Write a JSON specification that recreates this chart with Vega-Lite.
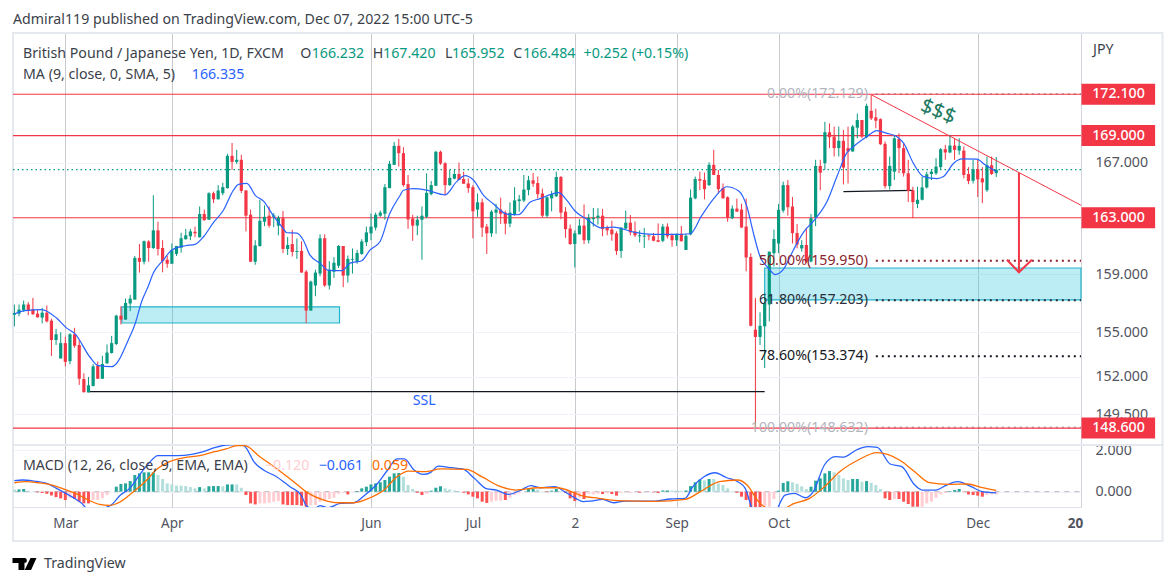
{"$schema":"https://vega.github.io/schema/vega-lite/v6.json","background":"white","padding":{"left":11,"top":12,"right":0,"bottom":0},"spacing":0,"bounds":"flush","resolve":{"scale":{"color":"independent"}},
"config":{"view":{"stroke":"#e0e3eb"},"font":"Noto Sans","text":{"font":"Noto Sans"},"axis":{"labelFont":"Noto Sans","labelFontSize":14.2,"labelColor":"#50535e"}},
"datasets":{
"candles":[{"n":0,"o":156.2,"h":156.9,"l":155.4,"c":156.32},{"n":1,"o":156.27,"h":156.9,"l":156.09,"c":156.55},{"n":2,"o":156.5,"h":157.17,"l":156.39,"c":156.9},{"n":3,"o":156.9,"h":157.06,"l":156.16,"c":156.5},{"n":4,"o":156.57,"h":157.36,"l":156.2,"c":156.23},{"n":5,"o":156.27,"h":156.55,"l":156.0,"c":156.02},{"n":6,"o":156.0,"h":156.67,"l":155.6,"c":156.34},{"n":7,"o":156.34,"h":156.83,"l":155.67,"c":155.74},{"n":8,"o":155.79,"h":155.93,"l":153.39,"c":154.47},{"n":9,"o":154.47,"h":155.23,"l":154.13,"c":154.86},{"n":10,"o":153.22,"h":155.0,"l":153.22,"c":154.26},{"n":11,"o":154.26,"h":154.7,"l":152.69,"c":152.99},{"n":12,"o":153.04,"h":154.93,"l":152.83,"c":154.86},{"n":13,"o":154.86,"h":155.3,"l":153.94,"c":154.08},{"n":14,"o":154.13,"h":154.47,"l":151.45,"c":151.86},{"n":15,"o":151.84,"h":152.23,"l":150.96,"c":150.96},{"n":16,"o":150.96,"h":151.98,"l":150.96,"c":151.42},{"n":17,"o":151.38,"h":152.85,"l":151.35,"c":152.69},{"n":18,"o":152.74,"h":153.02,"l":151.86,"c":151.86},{"n":19,"o":151.86,"h":153.41,"l":151.86,"c":152.85},{"n":20,"o":152.9,"h":154.17,"l":152.85,"c":153.62},{"n":21,"o":153.59,"h":154.75,"l":153.55,"c":154.26},{"n":22,"o":154.2,"h":156.2,"l":154.13,"c":156.13},{"n":23,"o":156.13,"h":156.78,"l":155.53,"c":155.86},{"n":24,"o":155.86,"h":157.31,"l":155.86,"c":157.01},{"n":25,"o":156.97,"h":157.57,"l":156.44,"c":157.31},{"n":26,"o":157.24,"h":160.29,"l":157.24,"c":160.15},{"n":27,"o":160.15,"h":161.13,"l":159.12,"c":159.88},{"n":28,"o":159.88,"h":161.38,"l":159.69,"c":161.33},{"n":29,"o":161.31,"h":161.4,"l":159.88,"c":160.85},{"n":30,"o":160.85,"h":164.62,"l":160.78,"c":162.1},{"n":31,"o":162.1,"h":162.72,"l":160.32,"c":160.78},{"n":32,"o":160.85,"h":161.4,"l":159.14,"c":159.92},{"n":33,"o":160.02,"h":160.29,"l":159.46,"c":159.74},{"n":34,"o":159.74,"h":161.17,"l":159.74,"c":160.69},{"n":35,"o":160.43,"h":161.0,"l":160.29,"c":160.99},{"n":36,"o":160.87,"h":161.93,"l":160.52,"c":161.54},{"n":37,"o":161.47,"h":162.21,"l":161.45,"c":161.75},{"n":38,"o":161.68,"h":162.21,"l":161.4,"c":162.03},{"n":39,"o":162.0,"h":162.37,"l":161.61,"c":161.89},{"n":40,"o":161.61,"h":163.81,"l":161.59,"c":163.27},{"n":41,"o":163.27,"h":163.59,"l":162.79,"c":162.83},{"n":42,"o":162.86,"h":164.84,"l":162.86,"c":164.77},{"n":43,"o":164.77,"h":164.89,"l":164.06,"c":164.33},{"n":44,"o":164.33,"h":165.36,"l":164.33,"c":164.97},{"n":45,"o":164.77,"h":165.53,"l":164.62,"c":165.21},{"n":46,"o":165.14,"h":167.65,"l":165.11,"c":167.5},{"n":47,"o":167.5,"h":168.46,"l":166.47,"c":167.06},{"n":48,"o":167.06,"h":167.94,"l":166.91,"c":167.21},{"n":49,"o":167.21,"h":167.58,"l":164.79,"c":164.94},{"n":50,"o":164.97,"h":164.99,"l":162.03,"c":163.15},{"n":51,"o":163.22,"h":163.59,"l":159.88,"c":159.88},{"n":52,"o":159.88,"h":161.4,"l":159.67,"c":161.03},{"n":53,"o":160.99,"h":164.3,"l":160.94,"c":162.79},{"n":54,"o":162.72,"h":163.89,"l":162.4,"c":163.07},{"n":55,"o":163.15,"h":163.81,"l":162.3,"c":162.44},{"n":56,"o":163.07,"h":163.34,"l":162.33,"c":163.17},{"n":57,"o":162.44,"h":163.15,"l":161.75,"c":163.0},{"n":58,"o":162.97,"h":163.49,"l":160.48,"c":160.78},{"n":59,"o":160.78,"h":161.63,"l":160.36,"c":161.06},{"n":60,"o":161.13,"h":162.14,"l":160.25,"c":160.57},{"n":61,"o":160.57,"h":161.52,"l":160.08,"c":160.64},{"n":62,"o":160.64,"h":161.33,"l":159.12,"c":159.12},{"n":63,"o":159.18,"h":159.3,"l":155.63,"c":156.48},{"n":64,"o":156.48,"h":158.56,"l":156.48,"c":158.49},{"n":65,"o":158.22,"h":159.32,"l":157.47,"c":159.12},{"n":66,"o":159.05,"h":161.82,"l":158.86,"c":161.54},{"n":67,"o":161.54,"h":161.82,"l":158.12,"c":158.22},{"n":68,"o":158.22,"h":159.92,"l":157.94,"c":159.32},{"n":69,"o":159.18,"h":160.2,"l":158.75,"c":159.81},{"n":70,"o":159.6,"h":161.06,"l":159.44,"c":160.99},{"n":71,"o":160.99,"h":160.99,"l":158.1,"c":158.91},{"n":72,"o":158.91,"h":160.32,"l":158.42,"c":160.08},{"n":73,"o":160.02,"h":160.82,"l":159.05,"c":160.08},{"n":74,"o":159.88,"h":160.71,"l":159.74,"c":160.5},{"n":75,"o":160.43,"h":161.47,"l":160.36,"c":161.31},{"n":76,"o":161.26,"h":162.37,"l":160.99,"c":161.96},{"n":77,"o":161.89,"h":163.3,"l":161.4,"c":162.37},{"n":78,"o":162.3,"h":163.37,"l":162.1,"c":163.22},{"n":79,"o":163.15,"h":163.52,"l":163.07,"c":163.37},{"n":80,"o":163.29,"h":165.44,"l":162.86,"c":165.21},{"n":81,"o":165.14,"h":167.13,"l":165.14,"c":166.91},{"n":82,"o":166.84,"h":168.53,"l":166.84,"c":168.24},{"n":83,"o":168.24,"h":168.76,"l":166.71,"c":167.7},{"n":84,"o":167.7,"h":168.14,"l":165.24,"c":165.36},{"n":85,"o":165.43,"h":166.1,"l":162.21,"c":162.88},{"n":86,"o":162.95,"h":163.22,"l":161.36,"c":162.44},{"n":87,"o":162.44,"h":163.15,"l":161.75,"c":162.86},{"n":88,"o":162.86,"h":163.81,"l":160.02,"c":163.15},{"n":89,"o":163.07,"h":166.22,"l":162.97,"c":164.8},{"n":90,"o":164.7,"h":165.66,"l":164.62,"c":165.36},{"n":91,"o":165.31,"h":167.87,"l":165.29,"c":167.8},{"n":92,"o":167.8,"h":167.89,"l":166.84,"c":166.94},{"n":93,"o":166.96,"h":167.03,"l":164.62,"c":165.36},{"n":94,"o":165.36,"h":166.47,"l":165.31,"c":165.88},{"n":95,"o":165.83,"h":166.52,"l":165.78,"c":166.17},{"n":96,"o":166.17,"h":167.01,"l":165.73,"c":165.73},{"n":97,"o":165.8,"h":166.34,"l":165.46,"c":165.46},{"n":98,"o":165.48,"h":165.85,"l":164.8,"c":165.14},{"n":99,"o":165.21,"h":165.36,"l":161.54,"c":163.47},{"n":100,"o":163.59,"h":164.75,"l":163.07,"c":164.11},{"n":101,"o":164.11,"h":164.38,"l":161.63,"c":162.3},{"n":102,"o":162.37,"h":162.56,"l":160.43,"c":161.89},{"n":103,"o":161.89,"h":163.56,"l":161.63,"c":163.44},{"n":104,"o":163.37,"h":164.01,"l":161.86,"c":163.59},{"n":105,"o":163.59,"h":164.45,"l":162.56,"c":163.29},{"n":106,"o":163.37,"h":163.52,"l":161.82,"c":162.58},{"n":107,"o":162.58,"h":164.11,"l":162.33,"c":163.37},{"n":108,"o":163.22,"h":165.21,"l":163.15,"c":164.25},{"n":109,"o":164.2,"h":164.65,"l":163.44,"c":164.33},{"n":110,"o":164.25,"h":166.1,"l":164.13,"c":165.04},{"n":111,"o":165.01,"h":166.03,"l":164.62,"c":165.71},{"n":112,"o":165.71,"h":166.25,"l":165.24,"c":165.46},{"n":113,"o":165.51,"h":165.98,"l":164.38,"c":164.7},{"n":114,"o":164.75,"h":165.11,"l":163.02,"c":163.15},{"n":115,"o":163.15,"h":164.55,"l":163.0,"c":164.48},{"n":116,"o":164.4,"h":164.94,"l":163.47,"c":164.7},{"n":117,"o":164.55,"h":166.34,"l":164.5,"c":165.95},{"n":118,"o":165.95,"h":166.02,"l":162.9,"c":163.37},{"n":119,"o":163.44,"h":163.76,"l":161.57,"c":162.19},{"n":120,"o":162.23,"h":162.51,"l":161.06,"c":161.13},{"n":121,"o":161.13,"h":162.1,"l":159.48,"c":161.89},{"n":122,"o":161.82,"h":162.9,"l":161.82,"c":162.44},{"n":123,"o":162.44,"h":163.96,"l":161.13,"c":161.4},{"n":124,"o":161.4,"h":163.27,"l":161.17,"c":163.0},{"n":125,"o":162.9,"h":163.71,"l":162.37,"c":163.0},{"n":126,"o":163.0,"h":163.69,"l":162.51,"c":163.15},{"n":127,"o":163.15,"h":163.64,"l":161.68,"c":162.19},{"n":128,"o":162.3,"h":162.44,"l":161.75,"c":162.1},{"n":129,"o":162.16,"h":162.79,"l":161.36,"c":161.82},{"n":130,"o":161.89,"h":162.03,"l":160.36,"c":160.64},{"n":131,"o":160.64,"h":162.3,"l":160.15,"c":162.3},{"n":132,"o":162.23,"h":163.52,"l":162.16,"c":162.65},{"n":133,"o":162.65,"h":163.2,"l":161.75,"c":161.96},{"n":134,"o":162.03,"h":162.74,"l":161.63,"c":161.75},{"n":135,"o":161.68,"h":162.1,"l":161.24,"c":161.75},{"n":136,"o":161.66,"h":162.28,"l":160.85,"c":161.72},{"n":137,"o":161.75,"h":161.75,"l":161.4,"c":161.68},{"n":138,"o":161.68,"h":161.91,"l":161.33,"c":161.36},{"n":139,"o":161.4,"h":162.6,"l":161.26,"c":161.29},{"n":140,"o":161.36,"h":162.56,"l":161.26,"c":162.37},{"n":141,"o":162.37,"h":162.6,"l":161.52,"c":161.68},{"n":142,"o":161.75,"h":161.86,"l":160.94,"c":161.4},{"n":143,"o":161.4,"h":161.86,"l":160.99,"c":161.86},{"n":144,"o":161.86,"h":162.42,"l":161.31,"c":161.33},{"n":145,"o":160.71,"h":161.86,"l":160.71,"c":161.72},{"n":146,"o":161.82,"h":165.04,"l":161.75,"c":164.45},{"n":147,"o":164.4,"h":165.98,"l":164.33,"c":165.8},{"n":148,"o":165.8,"h":166.34,"l":165.0,"c":165.68},{"n":149,"o":165.73,"h":166.27,"l":164.33,"c":165.07},{"n":150,"o":165.36,"h":167.03,"l":165.29,"c":166.84},{"n":151,"o":166.84,"h":167.94,"l":166.1,"c":166.1},{"n":152,"o":166.1,"h":166.47,"l":164.75,"c":165.07},{"n":153,"o":165.14,"h":165.48,"l":164.38,"c":164.4},{"n":154,"o":164.48,"h":164.55,"l":162.72,"c":163.0},{"n":155,"o":162.97,"h":163.89,"l":162.9,"c":163.66},{"n":156,"o":163.66,"h":164.38,"l":163.44,"c":163.44},{"n":157,"o":163.59,"h":164.01,"l":162.3,"c":162.3},{"n":158,"o":162.37,"h":164.38,"l":159.21,"c":160.18},{"n":159,"o":160.22,"h":160.48,"l":155.4,"c":155.44},{"n":160,"o":155.17,"h":157.36,"l":154.68,"c":154.68},{"n":161,"o":154.68,"h":156.36,"l":154.13,"c":155.44},{"n":162,"o":155.4,"h":157.7,"l":152.58,"c":157.01},{"n":163,"o":156.9,"h":160.59,"l":155.74,"c":160.59},{"n":164,"o":160.48,"h":162.16,"l":159.55,"c":161.49},{"n":165,"o":161.17,"h":164.0,"l":160.48,"c":163.57},{"n":166,"o":163.52,"h":165.61,"l":163.37,"c":165.36},{"n":167,"o":165.36,"h":165.73,"l":163.15,"c":163.76},{"n":168,"o":163.81,"h":164.5,"l":161.17,"c":161.91},{"n":169,"o":161.91,"h":162.56,"l":160.83,"c":161.1},{"n":170,"o":160.82,"h":161.4,"l":160.59,"c":161.06},{"n":171,"o":161.06,"h":162.3,"l":159.8,"c":159.9},{"n":172,"o":159.9,"h":163.27,"l":159.83,"c":162.97},{"n":173,"o":163.02,"h":167.21,"l":162.4,"c":166.76},{"n":174,"o":166.76,"h":167.21,"l":164.99,"c":166.27},{"n":175,"o":166.96,"h":170.03,"l":166.47,"c":169.25},{"n":176,"o":169.25,"h":169.91,"l":168.07,"c":168.88},{"n":177,"o":168.93,"h":169.67,"l":167.45,"c":168.07},{"n":178,"o":168.07,"h":169.67,"l":167.45,"c":168.61},{"n":179,"o":168.61,"h":169.42,"l":165.41,"c":166.64},{"n":180,"o":168.07,"h":169.67,"l":165.48,"c":167.82},{"n":181,"o":167.82,"h":169.79,"l":167.82,"c":169.67},{"n":182,"o":169.59,"h":170.65,"l":168.8,"c":170.16},{"n":183,"o":170.16,"h":170.16,"l":168.8,"c":168.93},{"n":184,"o":168.88,"h":171.39,"l":168.8,"c":171.22},{"n":185,"o":170.85,"h":172.05,"l":170.16,"c":170.28},{"n":186,"o":170.36,"h":171.02,"l":169.54,"c":170.11},{"n":187,"o":170.23,"h":170.28,"l":168.31,"c":168.36},{"n":188,"o":168.39,"h":168.56,"l":165.11,"c":165.29},{"n":189,"o":165.29,"h":167.45,"l":165.04,"c":166.76},{"n":190,"o":166.34,"h":169.05,"l":165.73,"c":168.8},{"n":191,"o":168.75,"h":169.17,"l":166.22,"c":168.07},{"n":192,"o":168.07,"h":168.44,"l":165.98,"c":166.22},{"n":193,"o":166.22,"h":167.21,"l":164.13,"c":164.94},{"n":194,"o":164.99,"h":165.24,"l":162.97,"c":164.13},{"n":195,"o":164.0,"h":165.24,"l":163.69,"c":164.3},{"n":196,"o":164.3,"h":165.98,"l":164.25,"c":165.19},{"n":197,"o":165.19,"h":166.34,"l":165.11,"c":166.15},{"n":198,"o":166.17,"h":166.47,"l":165.73,"c":166.34},{"n":199,"o":166.22,"h":167.33,"l":166.1,"c":166.71},{"n":200,"o":166.67,"h":168.07,"l":166.47,"c":167.99},{"n":201,"o":167.99,"h":168.31,"l":167.21,"c":167.75},{"n":202,"o":167.75,"h":169.05,"l":167.7,"c":168.26},{"n":203,"o":168.26,"h":168.8,"l":167.21,"c":167.94},{"n":204,"o":167.89,"h":168.8,"l":167.58,"c":168.24},{"n":205,"o":167.89,"h":168.19,"l":165.85,"c":166.1},{"n":206,"o":166.17,"h":166.67,"l":165.43,"c":165.66},{"n":207,"o":165.68,"h":167.21,"l":165.48,"c":166.52},{"n":208,"o":166.52,"h":167.21,"l":164.5,"c":165.78},{"n":209,"o":165.85,"h":166.67,"l":164.06,"c":165.56},{"n":210,"o":164.99,"h":167.45,"l":164.87,"c":166.81},{"n":211,"o":166.81,"h":167.45,"l":166.1,"c":166.17},{"n":212,"o":166.232,"h":167.42,"l":165.952,"c":166.484}],
"ma":[{"n":0,"p":156.25},{"n":2.3,"p":156.48},{"n":5.9,"p":156.55},{"n":9.1,"p":155.97},{"n":11.3,"p":155.28},{"n":13.1,"p":154.89},{"n":16.3,"p":153.32},{"n":18.1,"p":152.74},{"n":21,"p":152.67},{"n":22.1,"p":152.9},{"n":24.6,"p":154.47},{"n":26,"p":155.51},{"n":27.5,"p":157.13},{"n":28.9,"p":158.17},{"n":30,"p":159.09},{"n":32.2,"p":160.02},{"n":34,"p":160.71},{"n":36.9,"p":161.01},{"n":39,"p":161.1},{"n":40.8,"p":161.63},{"n":43,"p":162.67},{"n":45.1,"p":163.52},{"n":47.3,"p":164.99},{"n":48.4,"p":165.41},{"n":50.2,"p":165.48},{"n":52,"p":164.62},{"n":53.8,"p":164.2},{"n":55.9,"p":163.15},{"n":58.1,"p":162.21},{"n":58.8,"p":161.93},{"n":61,"p":161.91},{"n":62.4,"p":161.4},{"n":63.8,"p":160.36},{"n":66,"p":159.78},{"n":67.8,"p":159.28},{"n":70.7,"p":159.25},{"n":72.5,"p":159.78},{"n":75,"p":159.95},{"n":76.8,"p":160.71},{"n":79,"p":161.33},{"n":81,"p":163.27},{"n":83.3,"p":164.62},{"n":84,"p":164.99},{"n":86.2,"p":165.1},{"n":89,"p":164.99},{"n":93,"p":164.65},{"n":95.5,"p":165.61},{"n":97.3,"p":166.05},{"n":99.1,"p":165.73},{"n":101.3,"p":164.62},{"n":103.4,"p":164.01},{"n":106.3,"p":163.27},{"n":108.8,"p":163.22},{"n":111.4,"p":164.13},{"n":113.5,"p":164.38},{"n":117.5,"p":164.82},{"n":119.3,"p":164.25},{"n":121.1,"p":163.47},{"n":123.6,"p":162.9},{"n":126.8,"p":162.28},{"n":129.4,"p":162.33},{"n":133.7,"p":161.98},{"n":138,"p":161.82},{"n":143,"p":161.82},{"n":145.9,"p":161.86},{"n":148.4,"p":163.15},{"n":151,"p":164.38},{"n":153.8,"p":165.24},{"n":156.4,"p":164.94},{"n":158.2,"p":163.76},{"n":159.6,"p":161.86},{"n":161,"p":160.25},{"n":162.8,"p":159.44},{"n":164.3,"p":158.98},{"n":166,"p":159.32},{"n":168.2,"p":160.71},{"n":170.4,"p":161.98},{"n":172.9,"p":162.9},{"n":175.4,"p":164.13},{"n":177.6,"p":165.98},{"n":179.7,"p":167.7},{"n":181.2,"p":168.19},{"n":184.1,"p":168.93},{"n":186.2,"p":169.37},{"n":188.4,"p":169.17},{"n":190.5,"p":168.93},{"n":192,"p":168.44},{"n":194.1,"p":166.96},{"n":196.3,"p":165.98},{"n":199.2,"p":165.83},{"n":200.6,"p":165.98},{"n":202.8,"p":166.96},{"n":204.6,"p":167.28},{"n":207.8,"p":167.26},{"n":209.6,"p":166.84},{"n":212,"p":166.335}],
"hist":[{"n":0,"v":0.1,"s":"lg"},{"n":1,"v":0.11,"s":"g"},{"n":2,"v":0.13,"s":"g"},{"n":3,"v":0.05,"s":"lg"},{"n":4,"v":0.02,"s":"lg"},{"n":5,"v":-0.03,"s":"r"},{"n":6,"v":-0.06,"s":"r"},{"n":7,"v":-0.1,"s":"r"},{"n":8,"v":-0.18,"s":"r"},{"n":9,"v":-0.26,"s":"r"},{"n":10,"v":-0.32,"s":"r"},{"n":11,"v":-0.4,"s":"r"},{"n":12,"v":-0.29,"s":"lr"},{"n":13,"v":-0.35,"s":"r"},{"n":14,"v":-0.48,"s":"r"},{"n":15,"v":-0.56,"s":"r"},{"n":16,"v":-0.56,"s":"r"},{"n":17,"v":-0.4,"s":"lr"},{"n":18,"v":-0.4,"s":"lr"},{"n":19,"v":-0.32,"s":"lr"},{"n":20,"v":-0.16,"s":"lr"},{"n":21,"v":0.0,"s":"g"},{"n":22,"v":0.24,"s":"g"},{"n":23,"v":0.37,"s":"g"},{"n":24,"v":0.4,"s":"g"},{"n":25,"v":0.51,"s":"g"},{"n":26,"v":0.8,"s":"g"},{"n":27,"v":0.88,"s":"g"},{"n":28,"v":0.93,"s":"g"},{"n":29,"v":0.93,"s":"g"},{"n":30,"v":0.93,"s":"g"},{"n":31,"v":0.8,"s":"lg"},{"n":32,"v":0.61,"s":"lg"},{"n":33,"v":0.4,"s":"lg"},{"n":34,"v":0.35,"s":"lg"},{"n":35,"v":0.29,"s":"lg"},{"n":36,"v":0.29,"s":"lg"},{"n":37,"v":0.27,"s":"lg"},{"n":38,"v":0.22,"s":"lg"},{"n":39,"v":0.16,"s":"lg"},{"n":40,"v":0.22,"s":"g"},{"n":41,"v":0.16,"s":"lg"},{"n":42,"v":0.26,"s":"g"},{"n":43,"v":0.27,"s":"g"},{"n":44,"v":0.27,"s":"g"},{"n":45,"v":0.26,"s":"lg"},{"n":46,"v":0.35,"s":"g"},{"n":47,"v":0.35,"s":"g"},{"n":48,"v":0.35,"s":"lg"},{"n":49,"v":0.19,"s":"lg"},{"n":50,"v":-0.16,"s":"r"},{"n":51,"v":-0.56,"s":"r"},{"n":52,"v":-0.61,"s":"r"},{"n":53,"v":-0.56,"s":"lr"},{"n":54,"v":-0.56,"s":"lr"},{"n":55,"v":-0.53,"s":"lr"},{"n":56,"v":-0.48,"s":"lr"},{"n":57,"v":-0.45,"s":"lr"},{"n":58,"v":-0.61,"s":"r"},{"n":59,"v":-0.64,"s":"r"},{"n":60,"v":-0.64,"s":"r"},{"n":61,"v":-0.64,"s":"r"},{"n":62,"v":-0.67,"s":"r"},{"n":63,"v":-0.72,"s":"r"},{"n":64,"v":-0.64,"s":"lr"},{"n":65,"v":-0.64,"s":"lr"},{"n":66,"v":-0.48,"s":"lr"},{"n":67,"v":-0.4,"s":"lr"},{"n":68,"v":-0.35,"s":"lr"},{"n":69,"v":-0.29,"s":"lr"},{"n":70,"v":-0.1,"s":"lr"},{"n":71,"v":-0.05,"s":"lr"},{"n":72,"v":-0.13,"s":"r"},{"n":73,"v":-0.02,"s":"lr"},{"n":74,"v":0.03,"s":"g"},{"n":75,"v":0.16,"s":"g"},{"n":76,"v":0.24,"s":"g"},{"n":77,"v":0.35,"s":"g"},{"n":78,"v":0.4,"s":"g"},{"n":79,"v":0.45,"s":"g"},{"n":80,"v":0.56,"s":"g"},{"n":81,"v":0.72,"s":"g"},{"n":82,"v":0.88,"s":"g"},{"n":83,"v":0.9,"s":"g"},{"n":84,"v":0.72,"s":"lg"},{"n":85,"v":0.32,"s":"lg"},{"n":86,"v":0.13,"s":"lg"},{"n":87,"v":-0.05,"s":"r"},{"n":88,"v":-0.16,"s":"r"},{"n":89,"v":-0.1,"s":"lr"},{"n":90,"v":0.05,"s":"g"},{"n":91,"v":0.19,"s":"g"},{"n":92,"v":0.26,"s":"g"},{"n":93,"v":0.16,"s":"lg"},{"n":94,"v":0.11,"s":"lg"},{"n":95,"v":0.06,"s":"lg"},{"n":96,"v":0.02,"s":"lg"},{"n":97,"v":-0.05,"s":"r"},{"n":98,"v":-0.13,"s":"r"},{"n":99,"v":-0.24,"s":"r"},{"n":100,"v":-0.32,"s":"r"},{"n":101,"v":-0.48,"s":"r"},{"n":102,"v":-0.54,"s":"r"},{"n":103,"v":-0.48,"s":"lr"},{"n":104,"v":-0.43,"s":"lr"},{"n":105,"v":-0.43,"s":"lr"},{"n":106,"v":-0.4,"s":"r"},{"n":107,"v":-0.29,"s":"lr"},{"n":108,"v":-0.16,"s":"lr"},{"n":109,"v":-0.08,"s":"lr"},{"n":110,"v":0.0,"s":"lg"},{"n":111,"v":0.13,"s":"g"},{"n":112,"v":0.13,"s":"g"},{"n":113,"v":0.1,"s":"lg"},{"n":114,"v":0.02,"s":"lg"},{"n":115,"v":-0.02,"s":"r"},{"n":116,"v":0.05,"s":"g"},{"n":117,"v":0.13,"s":"g"},{"n":118,"v":0.03,"s":"lg"},{"n":119,"v":-0.06,"s":"r"},{"n":120,"v":-0.32,"s":"r"},{"n":121,"v":-0.45,"s":"r"},{"n":122,"v":-0.29,"s":"lr"},{"n":123,"v":-0.35,"s":"r"},{"n":124,"v":-0.1,"s":"lr"},{"n":125,"v":-0.13,"s":"lr"},{"n":126,"v":-0.1,"s":"lr"},{"n":127,"v":-0.11,"s":"r"},{"n":128,"v":-0.08,"s":"lr"},{"n":129,"v":-0.11,"s":"r"},{"n":130,"v":-0.19,"s":"r"},{"n":131,"v":-0.06,"s":"lr"},{"n":132,"v":-0.03,"s":"lr"},{"n":133,"v":-0.05,"s":"lr"},{"n":134,"v":-0.02,"s":"lr"},{"n":135,"v":-0.05,"s":"r"},{"n":136,"v":-0.02,"s":"lr"},{"n":137,"v":-0.02,"s":"lr"},{"n":138,"v":-0.03,"s":"r"},{"n":139,"v":-0.06,"s":"r"},{"n":140,"v":0.06,"s":"g"},{"n":141,"v":0.06,"s":"g"},{"n":142,"v":0.06,"s":"lg"},{"n":143,"v":0.05,"s":"lg"},{"n":144,"v":0.05,"s":"lg"},{"n":145,"v":0.06,"s":"g"},{"n":146,"v":0.27,"s":"g"},{"n":147,"v":0.45,"s":"g"},{"n":148,"v":0.58,"s":"g"},{"n":149,"v":0.54,"s":"lg"},{"n":150,"v":0.61,"s":"g"},{"n":151,"v":0.61,"s":"lg"},{"n":152,"v":0.4,"s":"lg"},{"n":153,"v":0.32,"s":"lg"},{"n":154,"v":0.16,"s":"lg"},{"n":155,"v":0.03,"s":"lg"},{"n":156,"v":-0.05,"s":"r"},{"n":157,"v":-0.24,"s":"r"},{"n":158,"v":-0.4,"s":"r"},{"n":159,"v":-0.8,"s":"r"},{"n":160,"v":-0.8,"s":"r"},{"n":161,"v":-0.8,"s":"r"},{"n":162,"v":-0.8,"s":"lr"},{"n":163,"v":-0.72,"s":"lr"},{"n":164,"v":-0.35,"s":"lr"},{"n":165,"v":0.05,"s":"g"},{"n":166,"v":0.42,"s":"g"},{"n":167,"v":0.5,"s":"g"},{"n":168,"v":0.45,"s":"lg"},{"n":169,"v":0.38,"s":"lg"},{"n":170,"v":0.26,"s":"lg"},{"n":171,"v":0.13,"s":"lg"},{"n":172,"v":0.24,"s":"g"},{"n":173,"v":0.53,"s":"g"},{"n":174,"v":0.64,"s":"g"},{"n":175,"v":0.88,"s":"g"},{"n":176,"v":0.99,"s":"g"},{"n":177,"v":0.93,"s":"lg"},{"n":178,"v":0.8,"s":"lg"},{"n":179,"v":0.64,"s":"lg"},{"n":180,"v":0.56,"s":"lg"},{"n":181,"v":0.61,"s":"g"},{"n":182,"v":0.61,"s":"g"},{"n":183,"v":0.48,"s":"lg"},{"n":184,"v":0.51,"s":"g"},{"n":185,"v":0.43,"s":"lg"},{"n":186,"v":0.32,"s":"lg"},{"n":187,"v":0.13,"s":"lg"},{"n":188,"v":-0.32,"s":"r"},{"n":189,"v":-0.4,"s":"r"},{"n":190,"v":-0.35,"s":"lr"},{"n":191,"v":-0.35,"s":"r"},{"n":192,"v":-0.48,"s":"r"},{"n":193,"v":-0.59,"s":"r"},{"n":194,"v":-0.72,"s":"r"},{"n":195,"v":-0.72,"s":"r"},{"n":196,"v":-0.72,"s":"lr"},{"n":197,"v":-0.56,"s":"lr"},{"n":198,"v":-0.48,"s":"lr"},{"n":199,"v":-0.29,"s":"lr"},{"n":200,"v":-0.13,"s":"lr"},{"n":201,"v":-0.05,"s":"lr"},{"n":202,"v":0.03,"s":"g"},{"n":203,"v":0.08,"s":"g"},{"n":204,"v":0.13,"s":"g"},{"n":205,"v":-0.02,"s":"r"},{"n":206,"v":-0.13,"s":"r"},{"n":207,"v":-0.16,"s":"r"},{"n":208,"v":-0.19,"s":"r"},{"n":209,"v":-0.24,"s":"r"},{"n":210,"v":-0.16,"s":"lr"},{"n":211,"v":-0.13,"s":"lr"},{"n":212,"v":-0.12,"s":"lr"}],
"macd":[{"n":0,"v":0.53},{"n":1.8,"v":0.56},{"n":4.2,"v":0.51},{"n":7,"v":0.4},{"n":9.1,"v":0.16},{"n":11.1,"v":-0.08},{"n":13.2,"v":-0.35},{"n":15.2,"v":-0.72},{"n":16.2,"v":-1.12},{"n":18.2,"v":-1.12},{"n":19.7,"v":-0.77},{"n":20.9,"v":-0.64},{"n":22.9,"v":-0.16},{"n":24.9,"v":0.16},{"n":27,"v":0.8},{"n":29,"v":1.36},{"n":31,"v":1.73},{"n":32.7,"v":1.73},{"n":35.1,"v":1.73},{"n":38.3,"v":1.79},{"n":40.8,"v":1.92},{"n":43.2,"v":2.11},{"n":45.7,"v":2.24},{"n":48.9,"v":2.27},{"n":50.1,"v":2.08},{"n":51.7,"v":1.44},{"n":53.8,"v":1.04},{"n":56.6,"v":0.72},{"n":59.5,"v":0.24},{"n":61.9,"v":-0.16},{"n":63.1,"v":-0.69},{"n":64.7,"v":-0.83},{"n":66,"v":-0.67},{"n":67.6,"v":-0.77},{"n":70.4,"v":-0.56},{"n":73.3,"v":-0.53},{"n":75.7,"v":-0.16},{"n":78.1,"v":0.32},{"n":80.6,"v":1.04},{"n":82.6,"v":1.57},{"n":84.2,"v":1.57},{"n":86.3,"v":1.04},{"n":88.3,"v":0.83},{"n":89.9,"v":0.93},{"n":91.5,"v":1.23},{"n":94.4,"v":1.15},{"n":96.8,"v":1.09},{"n":99.3,"v":0.64},{"n":102.1,"v":0.13},{"n":104.1,"v":0.08},{"n":106.6,"v":-0.13},{"n":109.4,"v":0.08},{"n":111.5,"v":0.29},{"n":113.5,"v":0.19},{"n":116.7,"v":0.24},{"n":118.8,"v":0.0},{"n":121.2,"v":-0.32},{"n":122.8,"v":-0.48},{"n":124.5,"v":-0.45},{"n":127,"v":-0.37},{"n":129.4,"v":-0.53},{"n":131.8,"v":-0.45},{"n":138.3,"v":-0.45},{"n":141.6,"v":-0.35},{"n":144.8,"v":-0.32},{"n":146.5,"v":0.24},{"n":148.9,"v":0.72},{"n":151.3,"v":0.91},{"n":153.8,"v":0.67},{"n":156.2,"v":0.48},{"n":157.8,"v":0.16},{"n":159.1,"v":-0.72},{"n":160.3,"v":-1.44},{"n":162.7,"v":-1.92},{"n":164.8,"v":-0.8},{"n":166.4,"v":-0.16},{"n":168.4,"v":-0.08},{"n":170.8,"v":-0.29},{"n":172.5,"v":0.0},{"n":174.9,"v":1.28},{"n":177.3,"v":1.68},{"n":179,"v":1.66},{"n":181.8,"v":2.0},{"n":184.2,"v":2.16},{"n":186.3,"v":2.13},{"n":189.1,"v":1.33},{"n":191.6,"v":1.2},{"n":194.4,"v":0.32},{"n":196,"v":0.08},{"n":198.9,"v":0.08},{"n":201.3,"v":0.32},{"n":203.7,"v":0.48},{"n":206.6,"v":0.24},{"n":209,"v":0.0},{"n":212,"v":-0.061}],
"signal":[{"n":0,"v":0.43},{"n":2.6,"v":0.48},{"n":5,"v":0.43},{"n":7.5,"v":0.35},{"n":10.3,"v":0.16},{"n":13.2,"v":-0.08},{"n":16,"v":-0.4},{"n":18.4,"v":-0.61},{"n":20.5,"v":-0.66},{"n":22.9,"v":-0.48},{"n":25.3,"v":-0.08},{"n":28.2,"v":0.48},{"n":31,"v":1.12},{"n":33.5,"v":1.44},{"n":36.7,"v":1.63},{"n":40,"v":1.73},{"n":43.2,"v":1.92},{"n":45.7,"v":2.05},{"n":48.1,"v":2.21},{"n":49.7,"v":2.21},{"n":53,"v":1.68},{"n":57,"v":1.04},{"n":60.3,"v":0.48},{"n":63.5,"v":-0.08},{"n":66.8,"v":-0.4},{"n":70,"v":-0.53},{"n":73.3,"v":-0.53},{"n":76.5,"v":-0.32},{"n":79.8,"v":0.08},{"n":82.6,"v":0.72},{"n":85.1,"v":0.99},{"n":88.7,"v":0.96},{"n":92,"v":1.09},{"n":97.6,"v":1.07},{"n":100.9,"v":0.72},{"n":105,"v":0.24},{"n":108.2,"v":0.08},{"n":113.1,"v":0.19},{"n":117.1,"v":0.19},{"n":121.2,"v":-0.08},{"n":122.1,"v":-0.16},{"n":126.2,"v":-0.32},{"n":130.2,"v":-0.43},{"n":138.3,"v":-0.46},{"n":144.8,"v":-0.37},{"n":148.1,"v":0.0},{"n":152.2,"v":0.48},{"n":156.2,"v":0.56},{"n":158.2,"v":0.32},{"n":160.7,"v":-0.48},{"n":162.7,"v":-0.8},{"n":166,"v":-0.8},{"n":168.4,"v":-0.56},{"n":171.7,"v":-0.32},{"n":174.9,"v":0.24},{"n":178.2,"v":0.96},{"n":182.2,"v":1.52},{"n":186.3,"v":1.87},{"n":191.1,"v":1.52},{"n":194.4,"v":0.96},{"n":197.6,"v":0.43},{"n":201.7,"v":0.35},{"n":205.8,"v":0.37},{"n":209,"v":0.19},{"n":212,"v":0.059}],
"levels":[{"p":172.1,"label":"172.100"},{"p":169,"label":"169.000"},{"p":163,"label":"163.000"},{"p":148.6,"label":"148.600"}],
"fib":[{"level":"0.00%","p":172.129,"label":"0.00%(172.129)"},{"level":"50.00%","p":159.95,"label":"50.00%(159.950)"},{"level":"61.80%","p":157.203,"label":"61.80%(157.203)"},{"level":"78.60%","p":153.374,"label":"78.60%(153.374)"},{"level":"100.00%","p":148.632,"label":"100.00%(148.632)"}],
"zones":[{"n1":23.2,"n2":70.2,"p1":156.74,"p2":155.63},{"n1":162,"n2":230.3,"p1":159.44,"p2":157.22}],
"paths":[{"part":"ssl","n":15.7,"p":151.0},{"part":"ssl","n":162,"p":151.0},{"part":"neck","n":179,"p":164.88},{"part":"neck","n":194,"p":164.98}],
"trend":[{"n":185.1,"p":172.05},{"n":230.3,"p":163.9}],
"arrow":[{"part":"shaft","n":216.9,"p":166.27},{"part":"shaft","n":216.9,"p":159.14},{"part":"head","n":214.3,"p":160.02},{"part":"head","n":216.9,"p":159.14},{"part":"head","n":219.7,"p":160.02}],
"headers":[{"n":-0.3,"p":177.84,"t":"Admiral119 published on TradingView.com, Dec 07, 2022 15:00 UTC-5","k":"label"},{"n":1.86,"p":175.2,"t":"British Pound / Japanese Yen, 1D, FXCM","k":"label"},{"n":61.7,"p":175.2,"t":"O","k":"label"},{"n":64.2,"p":175.2,"t":"166.232","k":"value"},{"n":77.4,"p":175.2,"t":"H","k":"label"},{"n":79.6,"p":175.2,"t":"167.420","k":"value"},{"n":93,"p":175.2,"t":"L","k":"label"},{"n":94.5,"p":175.2,"t":"165.952","k":"value"},{"n":107.7,"p":175.2,"t":"C","k":"label"},{"n":109.8,"p":175.2,"t":"166.484","k":"value"},{"n":122.9,"p":175.2,"t":"+0.252 (+0.15%)","k":"value"},{"n":1.86,"p":173.58,"t":"MA (9, close, 0, SMA, 5)","k":"label"},{"n":38.3,"p":173.58,"t":"166.335","k":"ma"},{"n":232.9,"p":175.5,"t":"JPY","k":"label"}],
"macdText":[{"n":1.86,"v":1.23,"t":"MACD (12, 26, close, 9, EMA, EMA)","k":"label"},{"n":54.1,"v":1.23,"t":"−0.120","k":"hist"},{"n":65.7,"v":1.23,"t":"−0.061","k":"macd"},{"n":77.2,"v":1.23,"t":"0.059","k":"signal"},{"n":6.4,"v":-3.47,"t":"TradingView","k":"label"}]
},
"vconcat":[
{"width":1068,"height":412,"layer":[
{"mark":{"type":"rect","fill":null,"stroke":"#e6e8f0","strokeWidth":2},"data":{"values":[{"a":1}]},"encoding":{
"x":{"datum":-0.3,"type":"quantitative","scale":{"domain":[-0.3,230.3],"nice":false,"zero":false,"padding":0},"axis":{"values":[11,34,77,99,121,143,165,208],"labels":false,"ticks":false,"domain":false,"grid":true,"gridColor":"#c9cacf","title":null}},
"x2":{"datum":247.9},
"y":{"datum":147.5,"type":"quantitative","scale":{"type":"log","domain":[147.5,176.8],"nice":false,"zero":false},"axis":{"orient":"right","values":[167,159,155,152,149.5],"format":".3f","ticks":false,"domain":true,"domainColor":"#d1d4dc","labelPadding":14,"grid":true,"gridColor":"#f0f3fa","title":null}},
"y2":{"datum":176.8}}},
{"mark":{"type":"rect","fill":"#22c0dc","fillOpacity":0.3,"stroke":"#22b4cc","strokeWidth":1.2},"data":{"name":"zones"},"encoding":{"x":{"field":"n1","type":"quantitative"},"x2":{"field":"n2"},"y":{"field":"p1","type":"quantitative"},"y2":{"field":"p2"}}},
{"mark":{"type":"rule","strokeDash":[2,4],"strokeWidth":2},"data":{"name":"fib"},"encoding":{"x":{"datum":186,"type":"quantitative"},"x2":{"datum":230.3},"y":{"field":"p","type":"quantitative"},"color":{"field":"level","type":"nominal","legend":null,"scale":{"domain":["0.00%","50.00%","61.80%","78.60%","100.00%","label","value","ma"],"range":["#b2b5be","#8a1f2d","#2a2e39","#131722","#b2b5be","#3b3f4a","#089981","#2962ff"]}}}},
{"mark":{"type":"rule","color":"#f23645","strokeWidth":1.1},"data":{"name":"levels"},"encoding":{"x":{"datum":-0.3,"type":"quantitative"},"x2":{"datum":230.3},"y":{"field":"p","type":"quantitative"}}},
{"mark":{"type":"rule","color":"#089981","strokeWidth":1.2,"strokeDash":[1.5,3]},"data":{"values":[{"p":166.484}]},"encoding":{"x":{"datum":-0.3,"type":"quantitative"},"x2":{"datum":230.3},"y":{"field":"p","type":"quantitative"}}},
{"mark":{"type":"rule","color":"#f23645","strokeWidth":1},"data":{"values":[{"n":160,"p1":157.2,"p2":148.6}]},"encoding":{"x":{"field":"n","type":"quantitative"},"y":{"field":"p1","type":"quantitative"},"y2":{"field":"p2"}}},
{"mark":{"type":"line","color":"#131722","strokeWidth":1.2},"data":{"name":"paths"},"encoding":{"x":{"field":"n","type":"quantitative"},"y":{"field":"p","type":"quantitative"},"detail":{"field":"part"}}},
{"mark":{"type":"rule","strokeWidth":1},"data":{"name":"candles"},"encoding":{"x":{"field":"n","type":"quantitative"},"y":{"field":"l","type":"quantitative"},"y2":{"field":"h"},"color":{"condition":{"test":"datum.c>=datum.o","value":"#089981"},"value":"#f23645"}}},
{"mark":{"type":"bar","size":3.2},"data":{"name":"candles"},"encoding":{"x":{"field":"n","type":"quantitative"},"y":{"field":"o","type":"quantitative"},"y2":{"field":"c"},"color":{"condition":{"test":"datum.c>=datum.o","value":"#089981"},"value":"#f23645"}}},
{"mark":{"type":"line","color":"#2962ff","strokeWidth":1.2,"interpolate":"monotone"},"data":{"name":"ma"},"encoding":{"x":{"field":"n","type":"quantitative"},"y":{"field":"p","type":"quantitative"}}},
{"mark":{"type":"line","color":"#f23645","strokeWidth":1},"data":{"name":"trend"},"encoding":{"x":{"field":"n","type":"quantitative"},"y":{"field":"p","type":"quantitative"}}},
{"mark":{"type":"line","color":"#f23645","strokeWidth":2},"data":{"name":"arrow"},"encoding":{"x":{"field":"n","type":"quantitative"},"y":{"field":"p","type":"quantitative"},"detail":{"field":"part"}}},
{"mark":{"type":"rule","color":"#f23645","strokeWidth":21},"data":{"name":"levels"},"encoding":{"x":{"datum":230.4,"type":"quantitative"},"x2":{"datum":246.3},"y":{"field":"p","type":"quantitative"}}},
{"mark":{"type":"text","color":"white","fontSize":14.2,"fontWeight":500,"align":"center","baseline":"middle"},"data":{"name":"levels"},"encoding":{"x":{"datum":238.4,"type":"quantitative"},"y":{"field":"p","type":"quantitative"},"text":{"field":"label"}}},
{"mark":{"type":"text","fontSize":14.2,"align":"right","baseline":"middle"},"data":{"name":"fib"},"encoding":{"x":{"datum":184.3,"type":"quantitative"},"y":{"field":"p","type":"quantitative"},"text":{"field":"label"},"color":{"field":"level","type":"nominal","legend":null}}},
{"mark":{"type":"text","fontSize":14.2,"align":"left","baseline":"middle"},"data":{"name":"headers"},"encoding":{"x":{"field":"n","type":"quantitative"},"y":{"field":"p","type":"quantitative"},"text":{"field":"t"},"color":{"field":"k","type":"nominal","legend":null}}},
{"mark":{"type":"text","fontSize":14.2,"color":"#2962ff","align":"center","baseline":"middle"},"data":{"values":[{"n":88.5,"p":150.38,"t":"SSL"}]},"encoding":{"x":{"field":"n","type":"quantitative"},"y":{"field":"p","type":"quantitative"},"text":{"field":"t"}}},
{"mark":{"type":"text","fontSize":21,"color":"#1b7a5f","align":"center","baseline":"middle","angle":22},"data":{"values":[{"n":199.4,"p":170.75,"t":"$$$"}]},"encoding":{"x":{"field":"n","type":"quantitative"},"y":{"field":"p","type":"quantitative"},"text":{"field":"t"}}}
]},
{"width":1068,"height":62,"layer":[
{"mark":{"type":"rect","fill":null,"stroke":"#e6e8f0","strokeWidth":2},"data":{"values":[{"a":1}]},"encoding":{
"x":{"datum":-0.3,"type":"quantitative","scale":{"domain":[-0.3,230.3],"nice":false,"zero":false,"padding":0},"axis":{"values":[11,34,77,99,121,143,165,208,229],"labelExpr":"{'11':'Mar','34':'Apr','77':'Jun','99':'Jul','121':'2','143':'Sep','165':'Oct','208':'Dec','229':'20'}[datum.value]","labelFontWeight":{"condition":{"test":"datum.value==229","value":"bold"},"value":"normal"},"labelFontSize":13.5,"labelPadding":9,"labelOverlap":false,"labelFlush":false,"ticks":false,"domain":false,"grid":true,"gridColor":"#c9cacf","gridOpacity":{"condition":{"test":"datum.value==229","value":0},"value":1},"title":null}},
"x2":{"datum":247.9},
"y":{"datum":-2.365,"type":"quantitative","scale":{"domain":[-0.734,2.24],"nice":false,"zero":false},"axis":{"orient":"right","values":[2,0],"format":".3f","ticks":false,"domain":true,"domainColor":"#d1d4dc","labelPadding":14,"grid":true,"gridColor":"#f0f3fa","title":null}},
"y2":{"datum":2.24}}},
{"mark":{"type":"rule","color":"#b2b5be","strokeDash":[5,5],"strokeWidth":1},"data":{"values":[{"v":0}]},"encoding":{"x":{"datum":0,"type":"quantitative"},"x2":{"datum":230.3},"y":{"field":"v","type":"quantitative"}}},
{"mark":{"type":"bar","size":3,"clip":true},"data":{"name":"hist"},"encoding":{"x":{"field":"n","type":"quantitative"},"y":{"field":"v","type":"quantitative"},"y2":{"datum":0},"color":{"field":"s","type":"nominal","legend":null,"scale":{"domain":["g","lg","lr","r","label","hist","macd","signal"],"range":["#26a69a","#b2dfdb","#ffcdd2","#ff5252","#3b3f4a","#ffcdd2","#2962ff","#ff6d00"]}}}},
{"mark":{"type":"line","color":"#2962ff","strokeWidth":1.3,"clip":true,"interpolate":"monotone"},"data":{"name":"macd"},"encoding":{"x":{"field":"n","type":"quantitative"},"y":{"field":"v","type":"quantitative"}}},
{"mark":{"type":"line","color":"#ff6d00","strokeWidth":1.3,"clip":true,"interpolate":"monotone"},"data":{"name":"signal"},"encoding":{"x":{"field":"n","type":"quantitative"},"y":{"field":"v","type":"quantitative"}}},
{"mark":{"type":"text","fontSize":14.2,"align":"left","baseline":"middle"},"data":{"name":"macdText"},"encoding":{"x":{"field":"n","type":"quantitative"},"y":{"field":"v","type":"quantitative"},"text":{"field":"t"},"color":{"field":"k","type":"nominal","legend":null}}},
{"mark":{"type":"point","filled":true,"color":"#000000","opacity":1,"size":576,"shape":"M-1,-0.5H0V0.5H-0.5V-0.08H-1Z M0.03,-0.5A0.17,0.2,0,1,1,0.03,-0.1A0.17,0.2,0,1,1,0.03,-0.5Z M0.5,-0.5H1L0.55,0.5H0.02Z"},"data":{"values":[{"n":2.18,"v":-3.47}]},"encoding":{"x":{"field":"n","type":"quantitative"},"y":{"field":"v","type":"quantitative"}}}
]}
]}
